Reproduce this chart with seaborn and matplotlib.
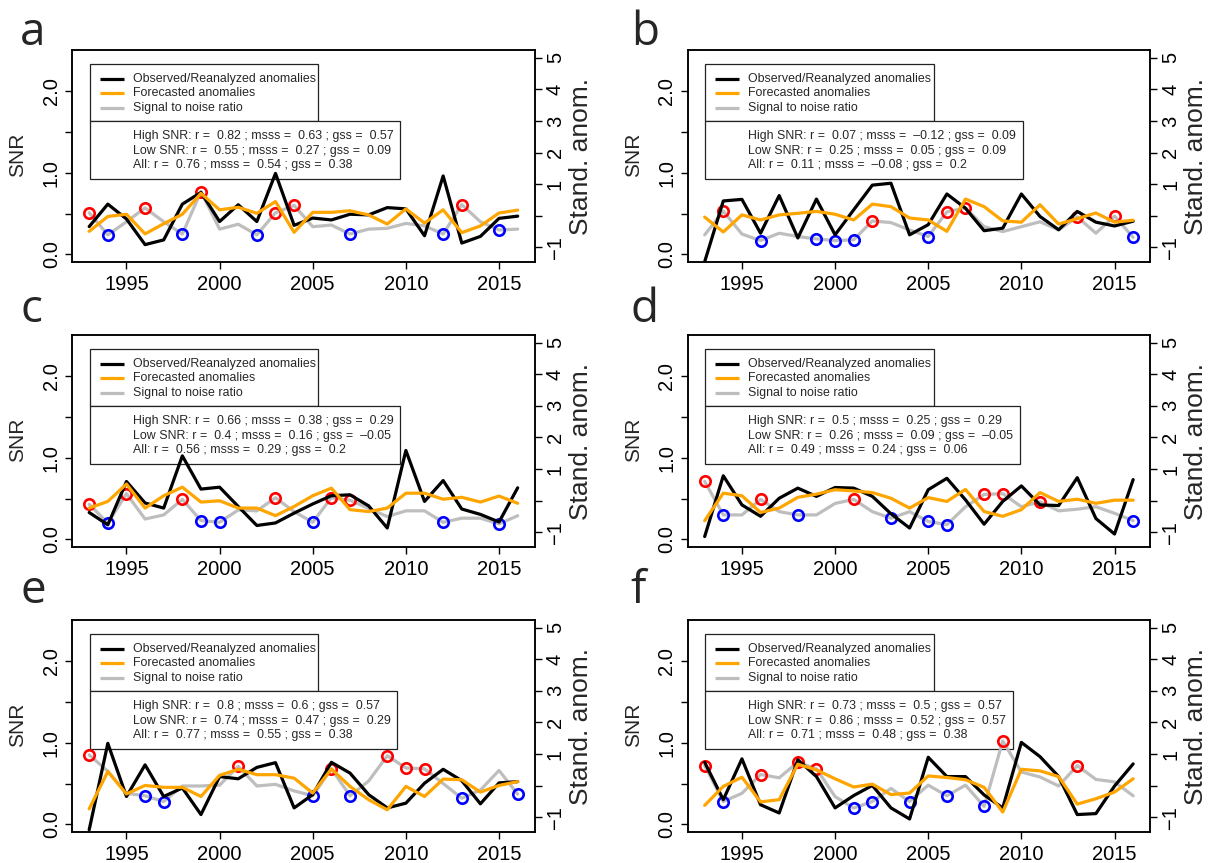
import matplotlib
matplotlib.use("Agg")
import matplotlib.pyplot as plt
from matplotlib.patches import Rectangle
import seaborn as sns

# years of the hindcast period
years = list(range(1993, 2017))

# panel a
snr_a = [0.51, 0.24, 0.40, 0.57, 0.40, 0.25, 0.77, 0.31, 0.37, 0.24, 0.51, 0.60,
         0.34, 0.36, 0.25, 0.31, 0.32, 0.38, 0.35, 0.25, 0.61, 0.40, 0.30, 0.31]
obs_a = [-0.34, 0.37, -0.10, -0.91, -0.76, 0.37, 0.74, -0.18, 0.35, -0.18, 1.34, -0.30,
         -0.07, -0.13, 0.05, 0.03, 0.26, 0.22, -0.63, 1.26, -0.86, -0.65, -0.08, -0.01]
fc_a = [-0.49, -0.02, 0.05, -0.57, -0.25, 0.05, 0.71, 0.19, 0.27, 0.08, 0.45, -0.52,
        0.11, 0.11, 0.16, 0.03, -0.26, 0.22, -0.23, 0.19, -0.53, -0.32, 0.09, 0.18]
hi_a = [1993, 1996, 1999, 2003, 2004, 2013]
lo_a = [1994, 1998, 2002, 2007, 2012, 2015]
stats_a = [[0.82, 0.63, 0.57], [0.55, 0.27, 0.09], [0.76, 0.54, 0.38]]

# panel b
snr_b = [0.24, 0.53, 0.25, 0.17, 0.26, 0.22, 0.19, 0.17, 0.18, 0.41, 0.39, 0.30,
         0.22, 0.52, 0.57, 0.34, 0.28, 0.34, 0.40, 0.30, 0.46, 0.26, 0.47, 0.21]
obs_b = [-1.45, 0.47, 0.52, -0.55, 0.64, -0.70, 0.53, -0.60, 0.19, 0.97, 1.03, -0.60,
         -0.28, 0.69, 0.24, -0.47, -0.39, 0.69, -0.02, -0.44, 0.14, -0.20, -0.32, -0.17]
fc_b = [-0.04, -0.51, 0.03, -0.13, 0.03, 0.08, 0.14, 0.05, -0.13, 0.37, 0.29, -0.07,
        -0.13, -0.49, 0.53, 0.29, -0.16, -0.20, 0.35, -0.26, -0.09, 0.09, -0.20, -0.14]
hi_b = [1994, 2002, 2006, 2007, 2013, 2015]
lo_b = [1996, 1999, 2000, 2001, 2005, 2016]
stats_b = [[0.07, -0.12, 0.09], [0.25, 0.05, 0.09], [0.11, -0.08, 0.2]]

# panel c
snr_c = [0.43, 0.20, 0.56, 0.25, 0.30, 0.49, 0.23, 0.21, 0.36, 0.35, 0.51, 0.34,
         0.21, 0.51, 0.48, 0.38, 0.28, 0.35, 0.35, 0.21, 0.26, 0.26, 0.19, 0.29]
obs_c = [-0.37, -0.76, 0.61, -0.07, -0.23, 1.42, 0.37, 0.43, -0.18, -0.78, -0.70, -0.39,
         -0.10, 0.16, 0.19, -0.16, -0.86, 1.59, -0.02, 0.64, -0.26, -0.43, -0.67, 0.41]
fc_c = [-0.23, -0.02, 0.53, -0.23, 0.16, 0.43, -0.04, 0.00, -0.23, -0.23, -0.47, -0.18,
        0.16, 0.40, -0.28, -0.34, -0.23, 0.24, 0.24, 0.05, 0.11, -0.04, 0.15, -0.08]
hi_c = [1993, 1995, 1998, 2003, 2006, 2007]
lo_c = [1994, 1999, 2000, 2005, 2012, 2015]
stats_c = [[0.66, 0.38, 0.29], [0.4, 0.16, -0.05], [0.56, 0.29, 0.2]]

# panel d
snr_d = [0.71, 0.30, 0.30, 0.49, 0.34, 0.30, 0.30, 0.44, 0.49, 0.34, 0.26, 0.34,
         0.22, 0.18, 0.40, 0.55, 0.56, 0.40, 0.46, 0.35, 0.37, 0.40, 0.32, 0.23]
obs_d = [-1.13, 0.79, -0.13, -0.49, 0.08, 0.40, 0.14, 0.42, 0.40, 0.14, -0.41, -0.86,
         0.35, 0.71, 0.03, -0.74, -0.02, 0.47, -0.13, -0.15, 0.73, -0.56, -1.05, 0.67]
fc_d = [-0.63, 0.24, 0.16, -0.37, -0.23, 0.11, 0.21, 0.35, 0.31, 0.26, 0.08, -0.23,
        0.10, -0.02, 0.36, -0.34, -0.49, -0.28, 0.26, -0.02, 0.05, -0.08, 0.02, 0.02]
hi_d = [1993, 1996, 2001, 2008, 2009, 2011]
lo_d = [1994, 1998, 2003, 2005, 2006, 2016]
stats_d = [[0.5, 0.25, 0.29], [0.26, 0.09, -0.05], [0.49, 0.24, 0.06]]

# panel e
snr_e = [0.85, 0.65, 0.38, 0.35, 0.28, 0.47, 0.47, 0.48, 0.71, 0.47, 0.49, 0.41,
         0.35, 0.68, 0.35, 0.53, 0.84, 0.69, 0.68, 0.50, 0.32, 0.42, 0.66, 0.37]
obs_e = [-1.39, 1.34, -0.34, 0.66, -0.34, -0.07, -0.91, 0.29, 0.22, 0.58, 0.73, -0.70,
         -0.28, 0.74, 0.40, -0.28, -0.70, -0.55, 0.08, 0.52, 0.16, -0.57, 0.09, 0.13]
fc_e = [-0.73, 0.45, -0.26, 0.01, -0.05, -0.05, -0.34, 0.33, 0.52, 0.35, 0.35, 0.24,
        -0.23, 0.53, -0.02, -0.44, -0.76, -0.02, -0.34, 0.21, 0.19, -0.20, 0.01, 0.13]
hi_e = [1993, 2001, 2006, 2009, 2010, 2011]
lo_e = [1996, 1997, 2005, 2007, 2013, 2016]
stats_e = [[0.8, 0.6, 0.57], [0.74, 0.47, 0.29], [0.77, 0.55, 0.38]]

# panel f
snr_f = [0.72, 0.28, 0.38, 0.61, 0.57, 0.76, 0.68, 0.34, 0.20, 0.28, 0.44, 0.28,
         0.48, 0.35, 0.48, 0.22, 1.02, 0.64, 0.58, 0.47, 0.72, 0.55, 0.52, 0.35]
obs_f = [0.74, -0.44, 0.85, -0.60, -0.86, 0.82, 0.29, -0.70, -0.31, 0.01, -0.70, -1.05,
         0.90, 0.29, 0.29, -0.29, -0.70, 1.37, 0.92, 0.29, -0.91, -0.88, -0.01, 0.69]
fc_f = [-0.62, -0.02, 0.27, -0.51, -0.44, 0.68, 0.50, 0.22, -0.04, 0.05, -0.28, -0.23,
        0.31, 0.26, 0.19, -0.05, -0.83, 0.52, 0.47, 0.29, -0.58, -0.41, -0.20, 0.22]
hi_f = [1993, 1996, 1998, 1999, 2009, 2013]
lo_f = [1994, 2001, 2002, 2004, 2006, 2008]
stats_f = [[0.73, 0.5, 0.57], [0.86, 0.52, 0.57], [0.71, 0.48, 0.38]]

panels = [
    ("a", snr_a, obs_a, fc_a, hi_a, lo_a, stats_a),
    ("b", snr_b, obs_b, fc_b, hi_b, lo_b, stats_b),
    ("c", snr_c, obs_c, fc_c, hi_c, lo_c, stats_c),
    ("d", snr_d, obs_d, fc_d, hi_d, lo_d, stats_d),
    ("e", snr_e, obs_e, fc_e, hi_e, lo_e, stats_e),
    ("f", snr_f, obs_f, fc_f, hi_f, lo_f, stats_f),
]
legend_labels = ["Observed/Reanalyzed anomalies", "Forecasted anomalies", "Signal to noise ratio"]
stat_groups = ["High SNR", "Low SNR", "All"]

GREY = "#bebebe"
ORANGE = "#ffa500"

sns.set_style("ticks")
plt.rcParams['font.family'] = ['Liberation Sans', 'DejaVu Sans']
plt.rcParams['axes.linewidth'] = 1.1
plt.rcParams['axes.edgecolor'] = 'black'


def fmt(v):
    return f"{v:g}".replace("-", "\u2013")


fig = plt.figure(figsize=(12.13, 8.63), dpi=100)

col_left = [0.0594, 0.5668]
row_bottom = [0.696, 0.3658, 0.0356]
letter_y = [0.948, 0.627, 0.301]
letter_x = [0.0165, 0.520]
W, H = 0.3815, 0.2457

stat_boxes = []
for i, (letter, snr, obs, fc, hi, lo, stats) in enumerate(panels):
    row, col = i // 2, i % 2
    ax = fig.add_axes([col_left[col], row_bottom[row], W, H])

    # SNR on the left axis
    sns.lineplot(x=years, y=snr, ax=ax, color=GREY, lw=2.3, zorder=2)
    sns.lineplot(x=hi, y=[snr[years.index(y)] for y in hi], ax=ax, marker='o',
                 linestyle='none', mfc='none', mec='red', mew=1.9, ms=7.5, zorder=3)
    sns.lineplot(x=lo, y=[snr[years.index(y)] for y in lo], ax=ax, marker='o',
                 linestyle='none', mfc='none', mec='blue', mew=1.9, ms=7.5, zorder=3)
    ax.set_xlim(1992.08, 2016.92)
    ax.set_ylim(-0.096, 2.496)
    ax.set_xticks([1995, 2000, 2005, 2010, 2015])
    ax.set_yticks([0, 0.5, 1.0, 1.5, 2.0])
    ax.set_yticklabels(["0.0", "", "1.0", "", "2.0"])
    ax.tick_params(direction='out', length=5, width=1, labelsize=14.5, pad=3, colors='black')
    ax.tick_params(axis='x', pad=4)
    ax.tick_params(axis='y', labelrotation=90)
    for lab in ax.get_yticklabels():
        lab.set_va('center')
    ax.set_xlabel("")
    ax.set_ylabel("")
    ax.text(-0.117, 0.506, "SNR", transform=ax.transAxes, rotation=90,
            ha='center', va='center', fontsize=15)

    # anomalies on the right axis
    ax2 = ax.twinx()
    sns.lineplot(x=years, y=obs, ax=ax2, color='black', lw=2.3)
    sns.lineplot(x=years, y=fc, ax=ax2, color=ORANGE, lw=2.3)
    ax2.set_ylim(-1.47, 5.23)
    ax2.set_yticks(list(range(-1, 6)))
    ax2.set_yticklabels(["\u22121", "", "1", "2", "3", "4", "5"])
    ax2.tick_params(direction='out', length=5, width=1, labelsize=14.5, pad=3, colors='black')
    ax2.tick_params(axis='y', labelrotation=90)
    for lab in ax2.get_yticklabels():
        lab.set_va('center')
    ax2.set_ylabel("")
    ax.text(1.099, 0.5, "Stand. anom.", transform=ax.transAxes, rotation=90,
            ha='center', va='center', fontsize=19)

    # legend box
    leg_y = [0.866, 0.798, 0.727]
    ax.add_patch(Rectangle((0.038, 0.667), 0.494, 0.268, transform=ax.transAxes,
                           facecolor='white', edgecolor='#222222', lw=0.9, zorder=1))
    for y, c, lab in zip(leg_y, ['black', ORANGE, GREY], legend_labels):
        ax.plot([0.060, 0.112], [y, y], transform=ax.transAxes, color=c, lw=2.3,
                solid_capstyle='butt', zorder=1.5)
        ax.text(0.131, y, lab, transform=ax.transAxes, va='center', ha='left',
                fontsize=8.9, zorder=1.5)

    # skill scores box
    stat_y = [0.595, 0.526, 0.459]
    texts = []
    for y, g, (r, m, s) in zip(stat_y, stat_groups, stats):
        t = ax.text(0.131, y, f"{g}: r =  {fmt(r)} ; msss =  {fmt(m)} ; gss =  {fmt(s)}",
                    transform=ax.transAxes, va='center', ha='left', fontsize=8.9, zorder=1.5)
        texts.append(t)
    box = Rectangle((0.038, 0.394), 0.6, 0.273, transform=ax.transAxes,
                    facecolor='white', edgecolor='#222222', lw=0.9, zorder=1)
    ax.add_patch(box)
    stat_boxes.append((ax, box, texts))

    fig.text(letter_x[col], letter_y[row], letter, fontsize=33, family='Open Sans',
             ha='left', va='baseline')

# fit the score boxes to their text
fig.canvas.draw()
renderer = fig.canvas.get_renderer()
for ax, box, texts in stat_boxes:
    right = max(t.get_window_extent(renderer).x1 for t in texts)
    right_ax = ax.transAxes.inverted().transform((right, 0))[0]
    box.set_width(right_ax + 0.014 - 0.038)

fig.savefig("out.png", dpi=100)
